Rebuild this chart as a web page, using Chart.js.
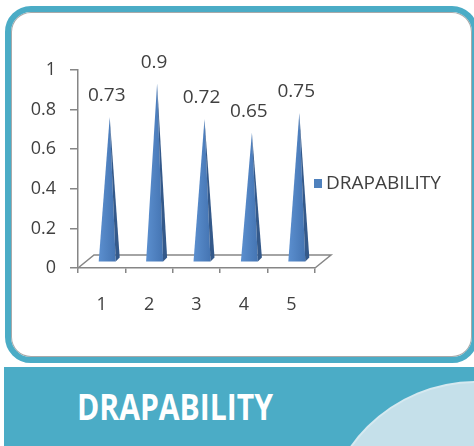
<!DOCTYPE html>
<html>
<head>
<meta charset="utf-8">
<script src="https://cdn.jsdelivr.net/npm/chart.js@4/dist/chart.umd.min.js"></script>
<style>
  html, body { margin: 0; padding: 0; background: #ffffff; }
  body { width: 474px; height: 446px; overflow: hidden; position: relative; font-family: "Open Sans", sans-serif; }
  #panel {
    position: absolute; left: 5px; top: 6px; width: 461px; height: 345px;
    border: 6px solid #4BACC6; border-radius: 26px;
    box-shadow: inset 0 0 0 1px #a9a9a9;
  }
  #banner {
    position: absolute; left: 4px; top: 367px; width: 480px; height: 90px;
    background: #4BACC6; overflow: hidden;
  }
  #circulo {
    position: absolute; left: 320px; top: 16px; width: 304px; height: 304px;
    border-radius: 50%; background: #C5E0EA; box-shadow: 0 0 0 2px #d6e9f0;
  }
  #titulo {
    position: absolute; left: 73px; top: 22px; margin: 0;
    font: 700 35px/35px "Open Sans", sans-serif; color: #ffffff;
    transform-origin: left top; white-space: nowrap;
  }
  #grafico { position: absolute; left: 0; top: 0; }
</style>
</head>
<body>
<div id="panel"></div>
<div id="banner"><div id="circulo"></div><p id="titulo">DRAPABILITY</p></div>
<canvas id="grafico" width="474" height="446"></canvas>
<script>
// ==================== DATOS ====================
const categorias = ['1', '2', '3', '4', '5'];
const valoresDrapability = [0.73, 0.9, 0.72, 0.65, 0.75];
const ticksY = [0, 0.2, 0.4, 0.6, 0.8, 1];
const nombreSerie = 'DRAPABILITY';

// estilos
const colorSerie = '#4F81BD';
const colorEje = '#868686';
const colorTexto = '#404040';
const fondoX = 16, fondoY = -13; // profundidad del "piso" 3D

// piso 3D + conos + etiquetas + leyenda
const pluginConos = {
    id: 'conos',
    beforeDatasetsDraw(chart) {
        const { ctx, chartArea } = chart;
        const yBase = chart.scales.y.getPixelForValue(0);
        ctx.save();
        ctx.strokeStyle = colorEje;
        ctx.lineWidth = 1.5;
        ctx.beginPath();
        ctx.moveTo(chartArea.left, yBase);
        ctx.lineTo(chartArea.left + fondoX, yBase + fondoY);
        ctx.lineTo(chartArea.right + fondoX, yBase + fondoY);
        ctx.lineTo(chartArea.right, yBase);
        ctx.stroke();
        ctx.restore();
    },
    afterDatasetsDraw(chart) {
        const { ctx, chartArea } = chart;
        const meta = chart.getDatasetMeta(0);
        const yScale = chart.scales.y;
        ctx.save();
        meta.data.forEach(function (barra, i) {
            const valor = valoresDrapability[i];
            const cx = barra.x + fondoX / 2 - 1;
            const base = yScale.getPixelForValue(0) + fondoY / 2;
            const punta = yScale.getPixelForValue(valor) + fondoY / 2;
            const tipX = cx + 1;

            // cara frontal
            const grad = ctx.createLinearGradient(cx - 10, 0, cx + 6, 0);
            grad.addColorStop(0, '#5B8FCF');
            grad.addColorStop(1, '#4676B4');
            ctx.fillStyle = grad;
            ctx.beginPath();
            ctx.moveTo(cx - 10, base);
            ctx.lineTo(cx + 7, base);
            ctx.lineTo(tipX, punta);
            ctx.closePath();
            ctx.fill();

            // cara lateral oscura
            ctx.fillStyle = '#34598A';
            ctx.beginPath();
            ctx.moveTo(cx + 7, base);
            ctx.lineTo(cx + 11, base - 4);
            ctx.lineTo(tipX, punta);
            ctx.closePath();
            ctx.fill();

            // etiqueta del valor
            ctx.fillStyle = colorTexto;
            ctx.font = '19px "Open Sans"';
            ctx.textAlign = 'center';
            ctx.textBaseline = 'middle';
            ctx.fillText(String(valor), barra.x + 5, punta - 21);
        });

        // leyenda
        const lx = chartArea.right - 1;
        const ly = chartArea.top + 109;
        ctx.fillStyle = colorSerie;
        ctx.fillRect(lx, ly, 8, 9);
        ctx.fillStyle = colorTexto;
        ctx.font = '19px "Open Sans"';
        ctx.textAlign = 'left';
        ctx.textBaseline = 'middle';
        ctx.fillText(nombreSerie, lx + 12, ly + 5);
        ctx.restore();
    }
};

function dibujarGrafico() {
    const ctx = document.getElementById('grafico').getContext('2d');
    new Chart(ctx, {
        type: 'bar',
        data: {
            labels: categorias,
            datasets: [{
                label: nombreSerie,
                data: valoresDrapability,
                backgroundColor: 'rgba(0,0,0,0)',
                borderWidth: 0
            }]
        },
        options: {
            responsive: false,
            animation: false,
            devicePixelRatio: 1,
            layout: { padding: { top: 70, right: 159, left: 0, bottom: 0 } },
            plugins: { legend: { display: false }, tooltip: { enabled: false } },
            scales: {
                x: {
                    grid: { offset: true, drawOnChartArea: false, drawTicks: true, tickLength: 5, color: colorEje, lineWidth: 1.5 },
                    border: { display: true, color: colorEje, width: 1.5 },
                    ticks: { font: { family: 'Open Sans', size: 18 }, color: colorTexto, padding: 21, maxRotation: 0 },
                    afterFit: function (s) { s.height = 178; }
                },
                y: {
                    min: 0,
                    max: 1,
                    afterBuildTicks: function (s) { s.ticks = ticksY.map(v => ({ value: v })); },
                    grid: { drawOnChartArea: false, drawTicks: true, tickLength: 8, color: colorEje, lineWidth: 1.5 },
                    border: { display: true, color: colorEje, width: 1.5 },
                    ticks: {
                        font: { family: 'Open Sans', size: 18 },
                        color: colorTexto,
                        padding: 14,
                        callback: v => String(Math.round(v * 10) / 10)
                    },
                    afterFit: function (s) { s.width = 78; }
                }
            }
        },
        plugins: [pluginConos]
    });
}

function ajustarTitulo() {
    const titulo = document.getElementById('titulo');
    const c = document.createElement('canvas').getContext('2d');
    c.font = '700 35px "Open Sans"';
    const ancho = c.measureText('DRAPABILITY').width;
    titulo.style.transform = 'scaleX(' + (196 / ancho) + ')';
}

Promise.all([
    document.fonts.load('18px "Open Sans"'),
    document.fonts.load('700 35px "Open Sans"')
]).then(function () {
    ajustarTitulo();
    dibujarGrafico();
}, function () {
    ajustarTitulo();
    dibujarGrafico();
});
</script>
</body>
</html>
